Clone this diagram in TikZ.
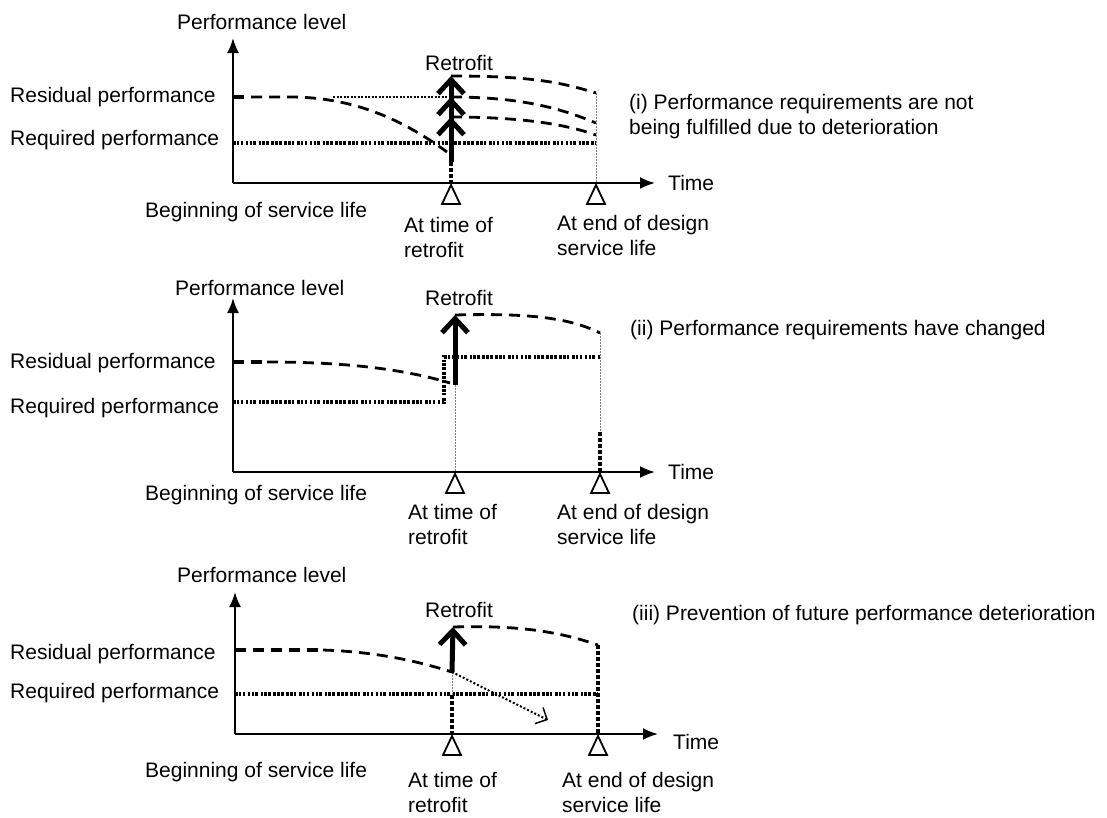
\documentclass[tikz,border=0pt]{standalone}
\usepackage{fontspec}
\setmainfont{Liberation Sans}
\usetikzlibrary{arrows.meta}

\tikzset{
  axis/.style={line width=2pt, -{Latex[length=15pt,width=12pt]}},
  resid/.style={line width=2.8pt, dash pattern=on 11pt off 7pt},
  residfirst/.style={line width=4.2pt, dash pattern=on 11pt off 7pt},
  reqd/.style={line width=3.4pt, dash pattern=on 2.6pt off 1.2pt on 2.6pt off 1.2pt on 2.6pt off 2.6pt},
  fine/.style={line width=2pt, dash pattern=on 2pt off 1.5pt},
  guide/.style={line width=0.8pt, gray, dash pattern=on 1.5pt off 1.5pt},
  heavy/.style={line width=3.2pt, dash pattern=on 4pt off 2pt},
  retro/.style={line width=5pt, -{Straight Barb[length=14pt,width=26pt]}},
  lbl/.style={inner sep=0pt, anchor=west},
  two/.style={inner sep=0pt, anchor=north west, align=left},
  tri/.pic={\draw[fill=white, line width=1.8pt] (0,2) -- (-9,21) -- (9,21) -- cycle;}
}

\begin{document}
\begin{tikzpicture}[x=1pt, y=-1pt, font=\fontsize{21}{25}\selectfont]
  \useasboundingbox (0,0) rectangle (1107,817);

  % (i) deterioration
  \coordinate (o1) at (233,183);
  \coordinate (yt1) at (233,38);
  \coordinate (xt1) at (655,183);
  \coordinate (r1) at (451,183);
  \coordinate (d1) at (596,183);
  \coordinate (low1) at (451,162);
  \draw[reqd] (233,143) -- (596,143);
  \draw[residfirst] (233,97) -- (251,97);
  \draw[resid] (251,97) -- (290,97) .. controls (360,97) and (410,125) .. (447,152);
  \draw[fine] (333,97) -- (451,97);
  \draw[resid] (451,76) .. controls (530,76) and (560,82) .. (596,93);
  \draw[resid] (451,97) .. controls (520,97) and (560,108) .. (596,123);
  \draw[resid] (451,117) .. controls (520,117) and (565,124) .. (596,135);
  \draw[guide] (596,93) -- (d1);
  \draw[heavy] (low1) -- (r1);
  \draw[retro] (low1) -- (451,117);
  \draw[retro] (low1) -- (451,97);
  \draw[retro] (low1) -- (451,76);
  \draw[axis] (o1) -- (yt1);
  \draw[axis] (o1) -- (xt1);
  \pic at (r1) {tri};
  \pic at (d1) {tri};
  \node[lbl] (pl1) at (177,22) {Performance level};
  \node[lbl] (res1) at (10,97) {Residual performance};
  \node[lbl] (req1) at (10,140) {Required performance};
  \node (ret1) at (459,63) {Retrofit};
  \node[lbl] (beg1) at (145,212) {Beginning of service life};
  \node[lbl] (time1) at (668,183) {Time};
  \node[two] (at1) at (404,217) {At time of\\retrofit};
  \node[two] (end1) at (557,215) {At end of design\\service life};
  \node[two] (case1) at (629,94) {(i) Performance requirements are not\\being fulfilled due to deterioration};

  % (ii) requirements changed
  \coordinate (o2) at (233,472);
  \coordinate (yt2) at (233,298);
  \coordinate (xt2) at (655,472);
  \coordinate (r2) at (455,472);
  \coordinate (d2) at (600,472);
  \coordinate (low2) at (455,385);
  \draw[reqd] (233,402) -- (444,402) -- (444,357) -- (600,357);
  \draw[residfirst] (233,362) -- (267,362);
  \draw[resid] (267,362) .. controls (340,362) and (400,368) .. (450,383);
  \draw[resid] (455,315) .. controls (530,313) and (570,318) .. (600,333);
  \draw[guide] (low2) -- (r2);
  \draw[guide] (600,333) -- (600,432);
  \draw[heavy] (600,432) -- (d2);
  \draw[retro] (low2) -- (455,315);
  \draw[axis] (o2) -- (yt2);
  \draw[axis] (o2) -- (xt2);
  \pic at (r2) {tri};
  \pic at (d2) {tri};
  \node[lbl] (pl2) at (175,288) {Performance level};
  \node[lbl] (res2) at (10,363) {Residual performance};
  \node[lbl] (req2) at (10,408) {Required performance};
  \node (ret2) at (459,298) {Retrofit};
  \node[lbl] (beg2) at (145,495) {Beginning of service life};
  \node[lbl] (time2) at (668,472) {Time};
  \node[two] (at2) at (408,504) {At time of\\retrofit};
  \node[two] (end2) at (557,504) {At end of design\\service life};
  \node[lbl] (case2) at (630,330) {(ii) Performance requirements have changed};

  % (iii) prevention
  \coordinate (o3) at (235,734);
  \coordinate (yt3) at (235,592);
  \coordinate (xt3) at (658,734);
  \coordinate (r3) at (452,734);
  \coordinate (d3) at (598,734);
  \coordinate (low3) at (452,672);
  \draw[reqd] (235,694) -- (598,694);
  \draw[residfirst] (235,650) -- (323,650);
  \draw[resid] (323,650) .. controls (380,652) and (420,662) .. (low3);
  \draw[resid] (453,627) .. controls (520,625) and (560,632) .. (598,645);
  \draw[guide] (low3) -- (452,695);
  \draw[heavy] (452,695) -- (r3);
  \draw[heavy] (598,645) -- (d3);
  \draw[line width=2pt, dash pattern=on 2pt off 2pt, -{Straight Barb[length=9pt,width=18pt,line width=1.5pt]}] (low3) -- (548,720);
  \draw[retro] (low3) -- (453,627);
  \draw[axis] (o3) -- (yt3);
  \draw[axis] (o3) -- (xt3);
  \pic at (r3) {tri};
  \pic at (d3) {tri};
  \node[lbl] (pl3) at (177,575) {Performance level};
  \node[lbl] (res3) at (10,654) {Residual performance};
  \node[lbl] (req3) at (10,693) {Required performance};
  \node (ret3) at (459,610) {Retrofit};
  \node[lbl] (beg3) at (145,772) {Beginning of service life};
  \node[lbl] (time3) at (673,742) {Time};
  \node[two] (at3) at (408,772) {At time of\\retrofit};
  \node[two] (end3) at (562,772) {At end of design\\service life};
  \node[lbl] (case3) at (632,615) {(iii) Prevention of future performance deterioration};
\end{tikzpicture}
\end{document}
